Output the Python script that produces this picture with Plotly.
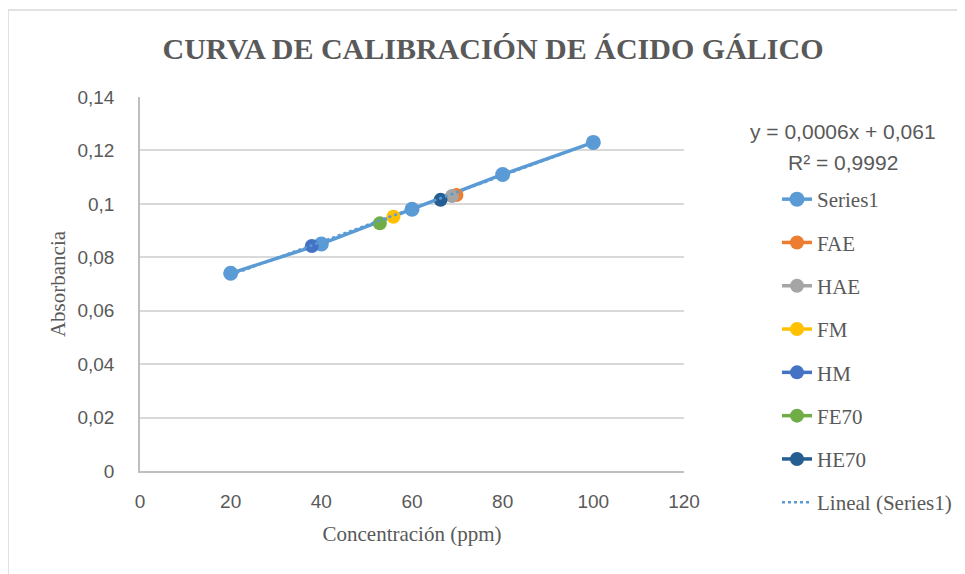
import numpy as np
import plotly.graph_objects as go

# Data
conc = [20, 40, 60, 80, 100]
absorb = [0.074, 0.085, 0.098, 0.111, 0.123]

sample_names = ["FAE", "HAE", "FM", "HM", "FE70", "HE70"]
sample_x = [69.8, 68.8, 55.9, 37.9, 52.9, 66.3]
sample_y = [0.1033, 0.1029, 0.0952, 0.0842, 0.0927, 0.1015]
sample_colors = ["#ED7D31", "#A5A5A5", "#FFC000", "#4472C4", "#70AD47", "#255E91"]

y_ticks = [0, 0.02, 0.04, 0.06, 0.08, 0.1, 0.12, 0.14]
x_ticks = [0, 20, 40, 60, 80, 100, 120]

series_color = "#5B9BD5"
text_color = "#595959"

fig = go.Figure()

fig.add_trace(go.Scatter(
    x=conc, y=absorb, mode="lines+markers", name="Series1",
    line=dict(color=series_color, width=3.5),
    marker=dict(color=series_color, size=15),
    legendgroup="g0"))

for i, (n, x, y, c) in enumerate(zip(sample_names, sample_x, sample_y, sample_colors)):
    fig.add_trace(go.Scatter(
        x=[x], y=[y], mode="lines+markers", name=n,
        line=dict(color=c, width=3.5),
        marker=dict(color=c, size=14),
        legendgroup=f"g{i+1}"))

# linear trendline
slope, intercept = np.polyfit(conc, absorb, 1)
tx = [min(conc), max(conc)]
ty = [slope * v + intercept for v in tx]
fig.add_trace(go.Scatter(
    x=tx, y=ty, mode="lines", name="Lineal (Series1)",
    line=dict(color=series_color, width=2.5, dash="dot"),
    legendgroup="g9"))

# pixel helpers (plot area spans x 140..684, y 97..471 in the page)
def px(v):
    return (v - 140) / 544

def py(v):
    return (471 - v) / 374

fig.update_layout(
    width=965, height=574,
    margin=dict(l=132, r=289, t=89, b=111),
    paper_bgcolor="white", plot_bgcolor="white",
    separators=", ",
    title=dict(text="<b>CURVA DE CALIBRACIÓN DE ÁCIDO GÁLICO</b>",
               font=dict(family="Liberation Serif", size=30, color=text_color),
               x=485 / 965, xanchor="center", y=1 - 40 / 574, yanchor="middle",
               xref="container", yref="container"),
    showlegend=True,
    legend=dict(x=px(777), xanchor="left", y=py(179), yanchor="top",
                font=dict(family="Liberation Serif", size=21, color=text_color),
                tracegroupgap=13, traceorder="grouped",
                bgcolor="rgba(0,0,0,0)"),
    xaxis=dict(range=[0, 120], tickvals=x_ticks, showgrid=False, zeroline=False,
               showline=True, linecolor="#BFBFBF", linewidth=1.5,
               tickfont=dict(family="Liberation Sans", size=19, color=text_color),
               ticklabelstandoff=12,
               title=dict(text="Concentración (ppm)", standoff=16,
                          font=dict(family="Liberation Serif", size=21, color=text_color))),
    yaxis=dict(range=[0, 0.14], tickvals=y_ticks, showgrid=True, gridcolor="#D9D9D9", gridwidth=1.5,
               zeroline=False, showline=True, linecolor="#BFBFBF", linewidth=1.5,
               tickfont=dict(family="Liberation Sans", size=19, color=text_color),
               ticklabelstandoff=20,
               title=dict(text="Absorbancia", standoff=6,
                          font=dict(family="Liberation Serif", size=21, color=text_color))),
    annotations=[
        dict(text="y = 0,0006x + 0,061", xref="paper", yref="paper",
             x=px(843), y=py(131), xanchor="center", yanchor="middle",
             showarrow=False, font=dict(family="Liberation Sans", size=21, color=text_color)),
        dict(text="R² = 0,9992", xref="paper", yref="paper",
             x=px(843), y=py(162), xanchor="center", yanchor="middle",
             showarrow=False, font=dict(family="Liberation Sans", size=21, color=text_color)),
    ],
    shapes=[dict(type="rect", xref="paper", yref="paper",
                 x0=px(8), x1=px(990), y0=py(600), y1=py(10),
                 line=dict(color="#D9D9D9", width=1.5), fillcolor="rgba(0,0,0,0)", layer="below")],
)

fig.write_html("out.html")
